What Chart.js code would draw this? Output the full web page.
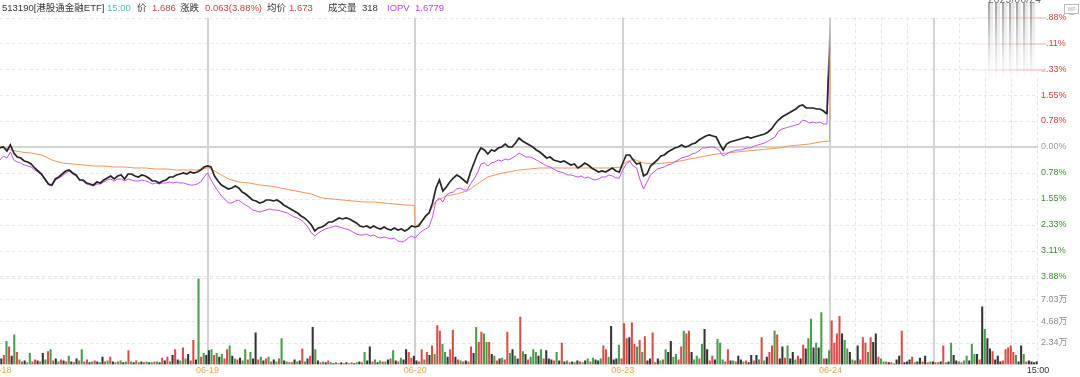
<!DOCTYPE html>
<html><head><meta charset="utf-8">
<script src="https://cdn.jsdelivr.net/npm/chart.js@4.4.1/dist/chart.umd.min.js"></script>
<style>
html,body{margin:0;padding:0;background:#fff;}
#wrap{position:relative;width:1080px;height:377px;overflow:hidden;font-family:"Liberation Sans","Noto Sans CJK SC",sans-serif;}
canvas{position:absolute;left:0;top:0;}
.t{position:absolute;top:2px;font-size:9.5px;line-height:11px;white-space:nowrap;color:#333;}
.red{color:#d23f3f}.teal{color:#4fc1c9}.pur{color:#c23ff0}
#ov{position:absolute;left:979px;top:0;width:67px;height:82px;background:linear-gradient(to bottom,rgba(255,255,255,0.97) 80%,rgba(255,255,255,0));}
.pink{position:absolute;left:960px;width:86px;height:2px;background:linear-gradient(to right,rgba(230,120,120,0),rgba(230,120,120,0.35));}
#stripes{position:absolute;left:988px;top:3px;width:48px;height:77px;
background:repeating-linear-gradient(90deg,rgba(95,95,95,.55) 0px,rgba(95,95,95,.55) 2px,rgba(180,180,180,.35) 2px,rgba(180,180,180,.35) 5px,rgba(235,235,235,.2) 5px,rgba(235,235,235,.2) 7px);
-webkit-mask-image:linear-gradient(to bottom,#000 5%,rgba(0,0,0,0.35) 60%,transparent 100%);mask-image:linear-gradient(to bottom,#000 5%,rgba(0,0,0,0.35) 60%,transparent 100%);}
#wm{position:absolute;left:988px;top:-6px;font-size:10px;color:#666;letter-spacing:0.3px;}
#wp{position:absolute;left:1064px;top:4px;width:13px;height:8px;border:1px solid #bbb;font-size:5px;line-height:8px;text-align:center;color:#aaa;}
#wps{position:absolute;left:1069px;top:14px;width:5px;height:1px;background:#bbb;}
</style></head>
<body><div id="wrap">
<canvas id="main" width="1080" height="377" style="width:1080px;height:377px"></canvas>
<canvas id="vol" width="1080" height="377" style="width:1080px;height:377px"></canvas>
<span class="t" style="left:2px">513190[港股通金融ETF]</span>
<span class="t teal" style="left:107px">15:00</span>
<span class="t" style="left:137px">价</span>
<span class="t red" style="left:152px">1.686</span>
<span class="t" style="left:180px">涨跌</span>
<span class="t red" style="left:205px">0.063(3.88%)</span>
<span class="t" style="left:267px">均价</span>
<span class="t red" style="left:289px">1.673</span>
<span class="t" style="left:328px">成交量</span>
<span class="t" style="left:362px">318</span>
<span class="t pur" style="left:387px">IOPV</span>
<span class="t pur" style="left:415px">1.6779</span>
<div id="ov"></div>
<div class="pink" style="top:17px"></div>
<div class="pink" style="top:43px"></div>
<div class="pink" style="top:69px"></div>
<div id="stripes"></div>
<div id="wm">2025/06/24</div>
<div id="wp">WP</div><div id="wps"></div>
</div>
<script>
// ---------- data ----------
const DAYS = ['06-18','06-19','06-20','06-23','06-24'];
const X_LABELS = ['06-18','06-19','06-20','06-23','06-24','15:00'];
const PCT_TICKS = [3.88,3.11,2.33,1.55,0.78,0.00,-0.78,-1.55,-2.33,-3.11,-3.88];
const VOL_TICKS = [2.34,4.68,7.03];
const VOL_MAX = 9.37;

// price change % (every 4 min)
const P0618 = [-0.03,0.00,-0.12,0.06,-0.18,-0.30,-0.33,-0.42,-0.45,-0.51,-0.63,-0.72,-0.81,-0.96,-1.11,-1.14,-0.96,-0.90,-0.81,-0.72,-0.69,-0.78,-0.84,-0.99,-0.99,-1.08,-1.11,-1.14,-1.05,-1.08,-0.99,-0.93,-0.87,-0.96,-0.87,-0.84,-0.96,-0.81,-0.81,-0.87,-0.90,-0.84,-0.87,-0.93,-1.02,-1.02,-1.08,-1.02,-0.99,-0.90,-0.90,-0.84,-0.81,-0.78,-0.81,-0.75,-0.78,-0.75,-0.69,-0.60];
const P0619 = [-0.57,-0.60,-0.87,-1.02,-1.14,-1.20,-1.26,-1.23,-1.17,-1.23,-1.35,-1.41,-1.50,-1.59,-1.62,-1.68,-1.65,-1.59,-1.59,-1.62,-1.59,-1.65,-1.74,-1.80,-1.86,-1.92,-1.98,-2.07,-2.13,-2.22,-2.34,-2.52,-2.43,-2.40,-2.34,-2.25,-2.25,-2.19,-2.13,-2.16,-2.13,-2.16,-2.22,-2.28,-2.37,-2.40,-2.37,-2.43,-2.37,-2.43,-2.46,-2.40,-2.46,-2.49,-2.43,-2.49,-2.46,-2.52,-2.46,-2.37];
const P0620 = [-2.40,-2.37,-2.22,-2.07,-1.98,-1.68,-1.23,-0.99,-1.32,-1.20,-1.05,-0.93,-0.84,-0.90,-0.99,-1.08,-0.75,-0.48,-0.21,-0.03,-0.09,-0.21,-0.09,-0.12,-0.03,0.00,0.09,0.00,0.00,0.12,0.27,0.18,0.12,0.06,0.00,-0.09,-0.15,-0.24,-0.33,-0.30,-0.39,-0.42,-0.45,-0.42,-0.48,-0.54,-0.51,-0.63,-0.57,-0.48,-0.54,-0.63,-0.69,-0.75,-0.72,-0.75,-0.69,-0.63,-0.72,-0.75];
const P0623 = [-0.48,-0.24,-0.24,-0.39,-0.51,-0.48,-0.87,-0.81,-0.57,-0.48,-0.39,-0.27,-0.24,-0.15,-0.09,-0.03,0.00,0.06,0.00,0.03,0.09,0.12,0.21,0.27,0.33,0.36,0.33,0.30,0.09,-0.09,0.09,0.15,0.18,0.21,0.24,0.27,0.30,0.27,0.30,0.33,0.36,0.39,0.45,0.54,0.69,0.81,0.90,0.96,1.02,1.08,1.14,1.23,1.26,1.17,1.17,1.17,1.14,1.14,1.08,0.99];
const P0624 = [3.88];

// IOPV change % (every 4 min)
const I0618 = [-0.39,-0.27,-0.33,-0.15,-0.39,-0.45,-0.48,-0.54,-0.57,-0.60,-0.69,-0.75,-0.84,-0.99,-1.14,-1.17,-0.99,-0.93,-0.87,-0.78,-0.72,-0.81,-0.87,-0.99,-1.02,-1.11,-1.14,-1.17,-1.11,-1.11,-1.05,-0.99,-0.96,-1.02,-0.96,-0.96,-1.02,-0.96,-0.99,-1.02,-1.02,-0.99,-1.02,-1.05,-1.11,-1.08,-1.11,-1.08,-1.08,-1.05,-1.08,-1.05,-1.08,-1.08,-1.11,-1.14,-1.14,-1.11,-1.05,-0.90];
const I0619 = [-0.78,-0.99,-1.17,-1.32,-1.47,-1.56,-1.68,-1.68,-1.62,-1.59,-1.68,-1.74,-1.80,-1.89,-1.92,-1.95,-1.92,-1.89,-1.86,-1.89,-1.89,-1.92,-1.95,-1.98,-2.04,-2.10,-2.13,-2.19,-2.28,-2.40,-2.58,-2.67,-2.58,-2.52,-2.46,-2.43,-2.40,-2.37,-2.40,-2.43,-2.46,-2.49,-2.55,-2.61,-2.64,-2.64,-2.61,-2.67,-2.64,-2.70,-2.73,-2.70,-2.73,-2.76,-2.73,-2.82,-2.85,-2.82,-2.73,-2.67];
const I0620 = [-2.73,-2.61,-2.52,-2.46,-2.40,-2.10,-1.62,-1.53,-1.65,-1.44,-1.38,-1.35,-1.26,-1.23,-1.29,-1.29,-1.11,-0.96,-0.78,-0.51,-0.48,-0.57,-0.48,-0.45,-0.39,-0.42,-0.36,-0.39,-0.33,-0.27,-0.18,-0.24,-0.30,-0.30,-0.33,-0.39,-0.45,-0.51,-0.57,-0.60,-0.66,-0.72,-0.75,-0.78,-0.84,-0.84,-0.87,-0.90,-0.87,-0.93,-0.90,-0.96,-0.99,-0.96,-0.90,-0.90,-0.84,-0.87,-0.93,-0.93];
const I0623 = [-0.69,-0.51,-0.42,-0.57,-0.63,-0.99,-1.26,-1.05,-0.84,-0.75,-0.66,-0.63,-0.60,-0.54,-0.51,-0.45,-0.39,-0.33,-0.30,-0.27,-0.21,-0.18,-0.12,-0.03,-0.03,0.00,0.00,-0.03,-0.12,-0.27,-0.21,-0.15,-0.12,-0.09,-0.09,-0.06,-0.03,-0.03,0.03,0.06,0.09,0.12,0.18,0.24,0.30,0.48,0.54,0.57,0.60,0.63,0.66,0.69,0.81,0.78,0.72,0.75,0.72,0.75,0.69,0.69];
const I0624 = [3.38];

// average price change % (every 12 min + day close)
const A0618 = [0.03,-0.09,-0.15,-0.18,-0.24,-0.39,-0.48,-0.51,-0.54,-0.57,-0.57,-0.60,-0.60,-0.63,-0.63,-0.66,-0.66,-0.69,-0.69,-0.69,-0.63];
const A0619 = [-0.60,-0.78,-0.96,-1.05,-1.08,-1.14,-1.17,-1.23,-1.29,-1.35,-1.41,-1.53,-1.56,-1.59,-1.62,-1.65,-1.65,-1.68,-1.71,-1.74,-1.75];
const A0620 = [-2.40,-2.13,-1.62,-1.47,-1.41,-1.32,-1.11,-0.90,-0.81,-0.75,-0.69,-0.66,-0.63,-0.63,-0.63,-0.63,-0.63,-0.63,-0.63,-0.63,-0.60];
const A0623 = [-0.51,-0.36,-0.48,-0.51,-0.48,-0.45,-0.39,-0.33,-0.27,-0.21,-0.18,-0.15,-0.12,-0.09,-0.06,-0.03,0.03,0.06,0.09,0.15,0.18];
const A0624 = [3.08];

// volume (万, every 3 min) and direction (1 up, -1 down, 0 flat)
const V0618 = [0.6,1.0,2.5,1.9,0.9,3.2,1.3,0.5,0.3,0.4,0.2,1.2,0.3,0.5,0.4,0.3,1.2,0.5,1.4,1.6,0.4,0.6,0.3,0.5,0.4,0.3,0.9,0.3,0.2,0.6,0.4,1.6,0.3,0.5,0.2,0.3,0.4,0.3,0.2,0.8,0.3,0.4,0.8,0.3,0.2,0.3,0.4,0.2,0.3,1.5,0.3,0.2,0.4,0.2,0.3,0.2,0.3,0.2,0.2,0.3,0.3,0.2,0.7,0.4,0.8,0.3,1.0,1.6,0.5,0.4,1.8,0.6,1.1,0.4,2.6,0.5,9.2,0.8,1.2,1.0];
const D0618 = [0,1,-1,1,0,-1,1,-1,1,0,-1,-1,1,1,0,-1,0,-1,1,-1,1,0,-1,1,0,1,-1,0,1,0,-1,-1,1,1,0,-1,1,0,-1,0,1,-1,1,0,-1,1,-1,0,-1,1,-1,0,1,-1,0,1,-1,0,-1,1,-1,0,1,0,1,-1,0,1,0,-1,1,-1,0,1,1,0,-1,1,-1,0];
const V0619 = [1.5,1.6,1.0,1.2,0.8,1.1,0.6,1.6,2.0,0.9,0.6,0.5,0.7,0.4,1.6,0.5,1.3,0.6,3.4,0.5,0.8,0.4,0.6,0.8,0.3,0.5,0.3,0.6,2.8,0.4,0.3,0.2,0.2,0.5,0.3,0.4,1.7,0.3,0.6,0.9,4.0,1.6,0.4,0.2,0.3,0.2,0.4,0.2,0.1,0.2,0.1,0.2,0.1,0.2,0.1,0.2,0.1,0.2,0.3,0.2,1.3,0.4,1.9,0.3,0.5,0.2,0.4,0.3,0.3,0.5,0.6,1.5,0.4,0.3,0.7,0.5,1.6,1.3,0.7,0.9];
const D0619 = [0,-1,1,-1,0,-1,1,1,-1,0,-1,1,0,-1,-1,1,-1,0,0,1,-1,0,1,-1,1,0,-1,1,-1,0,-1,1,1,0,-1,0,1,-1,0,1,0,-1,0,1,-1,0,1,-1,0,1,-1,0,1,0,-1,1,0,-1,0,1,-1,0,0,1,-1,0,-1,1,-1,0,1,-1,0,1,-1,0,0,1,1,0];
const V0620 = [0.4,0.3,1.6,0.5,1.3,1.0,2.0,1.1,4.2,3.6,2.2,1.3,0.8,1.6,3.7,0.8,0.5,0.4,0.3,0.4,0.3,1.9,1.2,4.0,2.4,3.5,3.3,2.4,2.4,1.1,0.9,0.4,0.6,0.7,0.5,3.5,1.2,1.6,0.9,0.6,5.1,1.4,1.1,0.5,0.8,1.6,1.3,0.9,1.6,0.6,1.5,0.6,0.5,0.4,1.3,0.4,2.3,0.3,0.4,0.2,0.3,0.2,0.4,0.3,0.2,0.4,0.6,0.3,0.7,0.5,0.4,0.6,2.0,1.6,0.8,4.1,0.5,0.6,2.1,0.6];
const D0620 = [0,1,1,-1,1,0,1,-1,1,1,-1,-1,0,1,1,0,1,-1,1,0,1,1,0,-1,1,1,-1,-1,1,0,-1,1,0,-1,1,1,-1,0,-1,0,1,-1,0,1,-1,-1,-1,0,-1,1,0,0,0,1,-1,0,1,0,-1,1,0,-1,0,1,-1,0,-1,1,-1,0,0,-1,1,1,-1,0,0,0,-1,1];
const V0623 = [4.4,2.8,2.9,4.5,2.2,1.9,2.6,1.3,3.0,0.4,0.6,3.4,0.2,0.6,0.4,0.5,1.6,1.3,2.5,0.8,1.1,0.5,1.9,3.6,3.3,3.6,1.3,0.5,0.9,0.6,2.2,3.8,1.6,0.4,0.9,0.5,2.7,2.3,0.5,0.3,1.6,0.4,0.4,0.3,0.9,0.5,0.3,0.4,0.2,1.0,0.4,1.0,0.5,2.9,0.4,0.8,1.3,2.0,3.6,3.2,0.6,1.9,0.7,2.0,0.6,1.3,0.5,0.9,0.6,2.1,1.7,2.8,4.9,1.8,2.3,1.8,5.6,0.6,0.6,1.5];
const D0623 = [1,1,0,1,1,-1,1,-1,1,0,0,1,1,0,-1,1,-1,0,0,-1,-1,1,1,-1,1,1,0,-1,-1,1,-1,0,0,1,1,0,-1,-1,-1,1,1,0,-1,1,0,0,-1,1,0,0,1,0,-1,1,-1,0,1,1,-1,1,0,0,1,-1,0,0,-1,1,0,1,0,-1,-1,0,-1,0,-1,1,0,-1];
const V0624 = [4.7,2.3,3.3,5.2,3.3,2.6,1.7,1.3,0.5,0.4,2.0,0.5,2.9,2.3,1.3,2.9,2.4,3.3,0.8,0.6,0.3,0.3,0.2,0.2,0.1,0.5,0.9,3.6,0.2,0.3,0.5,0.8,0.2,0.3,0.7,0.3,0.9,0.2,0.3,0.3,0.2,0.2,0.3,2.0,0.2,0.3,2.3,1.0,0.4,0.3,0.2,0.4,0.9,0.4,2.2,1.1,1.1,0.5,6.2,3.8,2.8,1.7,1.4,0.5,0.9,0.3,0.4,1.6,1.8,2.0,1.3,1.0,0.3,2.0,1.1,0.3,0.4,0.3,0.2,0.3];
const D0624 = [1,1,1,1,0,-1,-1,0,-1,1,0,1,1,1,-1,1,0,0,1,-1,-1,1,0,1,-1,0,0,1,0,0,0,1,-1,0,0,1,0,1,-1,0,1,1,0,1,-1,0,-1,0,0,-1,1,-1,-1,0,-1,-1,0,1,0,-1,0,0,1,0,0,0,1,1,1,1,1,-1,0,0,-1,1,0,0,0,0];

// ---------- build ----------
const DAY_MIN = 240, TOTAL_MIN = 1200;
const FONT = 'Liberation Sans, "Noto Sans CJK SC", sans-serif';

function minutePoints(dayArrays, stepMin, closeIdx) {
  const pts = [];
  dayArrays.forEach((arr, d) => arr.forEach((v, k) => {
    const m = (closeIdx !== undefined && k === closeIdx) ? DAY_MIN - 1 : k * stepMin;
    pts.push({x: d * DAY_MIN + m, y: v});
  }));
  return pts;
}
const pricePts = minutePoints([P0618,P0619,P0620,P0623,P0624], 4);
const iopvPts  = minutePoints([I0618,I0619,I0620,I0623,I0624], 4);
const avgPts   = minutePoints([A0618,A0619,A0620,A0623,A0624], 12, 20);

const volPts = [], volCols = [];
const COL = {'1':'rgba(214,62,56,0.92)','-1':'rgba(58,146,62,0.92)','0':'rgba(34,34,34,0.92)'};
[[V0618,D0618],[V0619,D0619],[V0620,D0620],[V0623,D0623],[V0624,D0624]].forEach(([vs,ds],d)=>{
  vs.forEach((v,i)=>{ volPts.push({x: d*DAY_MIN + i*3 + 1.5, y: v}); volCols.push(COL[String(ds[i]||0)]); });
});

function fadeGrad(chart, color){
  const a = chart.chartArea; if(!a) return color;
  const ys = chart.scales.y;
  const g = chart.ctx.createLinearGradient(0, ys.getPixelForValue(2.0), 0, a.top);
  g.addColorStop(0, color); g.addColorStop(1, 'rgba(200,200,200,0.3)');
  return g;
}
function lineDs(label, pts, color, w){
  return {label, data: pts, borderColor: color, borderWidth: w, pointRadius: 0, tension: 0,
    segment: {borderColor: ctx => ctx.p1DataIndex === pts.length - 1 ? fadeGrad(ctx.chart, color) : undefined}};
}

const SOLID_V = [240,480,720,960,1080];
const DASH_V = [990,1020,1050,1110,1140,1170,1200];
function drawVerticals(chart, top, bottom){
  const {ctx, scales:{x}} = chart;
  ctx.save();
  ctx.lineWidth = 1; ctx.strokeStyle = '#e4e4e4'; ctx.setLineDash([3,3]);
  DASH_V.forEach(m=>{ const px = Math.round(x.getPixelForValue(m)) - 0.5; ctx.beginPath(); ctx.moveTo(px, top); ctx.lineTo(px, bottom); ctx.stroke(); });
  ctx.setLineDash([]); ctx.lineWidth = 2; ctx.strokeStyle = '#d3d3d3';
  SOLID_V.forEach(m=>{ const px = Math.round(x.getPixelForValue(m)); ctx.beginPath(); ctx.moveTo(px, top); ctx.lineTo(px, bottom); ctx.stroke(); });
  ctx.restore();
}

const mainGrid = {
  id: 'mainGrid',
  beforeDatasetsDraw(chart){
    const {ctx, chartArea:a, scales:{y}} = chart;
    ctx.save();
    PCT_TICKS.forEach(v=>{
      if (v === 0) return;
      const py = Math.round(y.getPixelForValue(v)) + 0.5;
      ctx.setLineDash([3,3]); ctx.strokeStyle = '#e6e6e6'; ctx.lineWidth = 1;
      ctx.beginPath(); ctx.moveTo(a.left, py); ctx.lineTo(a.right, py); ctx.stroke();
    });
    drawVerticals(chart, a.top, a.bottom);
    const p0 = Math.round(y.getPixelForValue(0));
    ctx.setLineDash([]); ctx.strokeStyle = '#d3d3d3'; ctx.lineWidth = 2;
    ctx.beginPath(); ctx.moveTo(a.left, p0); ctx.lineTo(a.right, p0); ctx.stroke();
    ctx.restore();
  }
};
const volGrid = {
  id: 'volGrid',
  beforeDatasetsDraw(chart){
    const {ctx, chartArea:a, scales:{y}} = chart;
    ctx.save();
    VOL_TICKS.concat([VOL_MAX]).forEach(v=>{
      const py = Math.round(y.getPixelForValue(v)) + 0.5;
      ctx.setLineDash([3,3]); ctx.strokeStyle = '#e6e6e6'; ctx.lineWidth = 1;
      ctx.beginPath(); ctx.moveTo(a.left, py); ctx.lineTo(a.right, py); ctx.stroke();
    });
    ctx.restore();
    drawVerticals(chart, a.top - 2, a.bottom);
  }
};

const yFit = s => { s.width = 42; };
const noGrid = {display: false, drawTicks: false, tickLength: 0};

new Chart(document.getElementById('main'), {
  type: 'line',
  data: {datasets: [
    lineDs('价格', pricePts, '#252525', 1.7),
    lineDs('IOPV', iopvPts, '#c750f2', 1),
    lineDs('均价', avgPts, '#f19659', 1)
  ]},
  options: {
    responsive: false, animation: false,
    layout: {padding: {top: 17.7, bottom: 100.7, left: 0, right: 0}},
    plugins: {legend: {display: false}, tooltip: {enabled: false}},
    scales: {
      x: {type: 'linear', min: 0, max: TOTAL_MIN, display: false},
      y: {position: 'right', min: -3.88, max: 3.88,
        afterBuildTicks: s => { s.ticks = PCT_TICKS.map(v => ({value: v})); },
        afterFit: yFit,
        grid: noGrid, border: {display: false},
        ticks: {padding: 3, font: {size: 9, family: FONT},
          color: c => c.tick.value > 0 ? '#d23f3f' : (c.tick.value < 0 ? '#3c8c2e' : '#9a9a9a'),
          callback: v => Math.abs(v).toFixed(2) + '%'}}
    }
  },
  plugins: [mainGrid]
});

new Chart(document.getElementById('vol'), {
  type: 'bar',
  data: {datasets: [{label: '成交量', data: volPts, backgroundColor: volCols, barThickness: 1.4, borderWidth: 0}]},
  options: {
    responsive: false, animation: false,
    layout: {padding: {top: 277.5, bottom: 0, left: 0, right: 0}},
    plugins: {legend: {display: false}, tooltip: {enabled: false}},
    scales: {
      x: {type: 'linear', min: 0, max: TOTAL_MIN, offset: false,
        afterBuildTicks: s => { s.ticks = X_LABELS.map((l, i) => ({value: i * DAY_MIN})); },
        afterFit: s => { s.height = 12.5; s.paddingLeft = 0; s.paddingRight = 0; },
        grid: Object.assign({offset: false}, noGrid), border: {display: false},
        ticks: {padding: 1, maxRotation: 0, autoSkip: false, font: {size: 9, family: FONT},
          color: c => c.index === X_LABELS.length - 1 ? '#333' : '#efa43c',
          callback: (v, i) => X_LABELS[i]}},
      y: {position: 'right', min: 0, max: VOL_MAX,
        afterBuildTicks: s => { s.ticks = VOL_TICKS.map(v => ({value: v})); },
        afterFit: yFit,
        grid: noGrid, border: {display: false},
        ticks: {padding: 3, font: {size: 9, family: FONT}, color: '#8a8a8a',
          callback: v => v.toFixed(2) + '万'}}
    }
  },
  plugins: [volGrid]
});
</script>
</body></html>
